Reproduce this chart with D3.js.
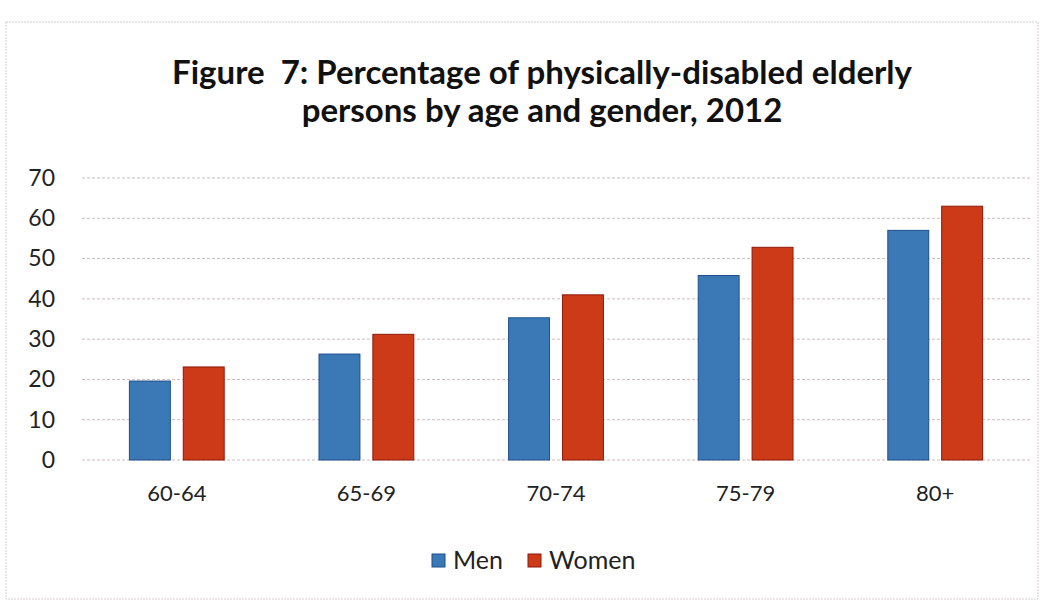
<!DOCTYPE html>
<html>
<head>
<meta charset="utf-8">
<script src="https://cdn.jsdelivr.net/npm/d3@7"></script>
<style>
  html, body { margin: 0; padding: 0; background: #fff; }
  svg { display: block; font-family: Lato, "Open Sans", sans-serif; }
  .title { white-space: pre; }
</style>
</head>
<body>
<svg id="chart" width="1044" height="607"></svg>
<script>
// Age groups and percentages of physically-disabled elderly persons, 2012
const ageGroups = ["60-64", "65-69", "70-74", "75-79", "80+"];
const seriesNames = ["Men", "Women"];
const menValues = [19.6, 26.3, 35.3, 45.8, 57.0];
const womenValues = [23.1, 31.2, 41.0, 52.8, 63.0];
const yTicks = [0, 10, 20, 30, 40, 50, 60, 70];
const titleLines = [
  "Figure  7: Percentage of physically-disabled elderly",
  "persons by age and gender, 2012"
];

const colors = { Men: "#3a79b6", Women: "#cc3a18" };
const strokes = { Men: "#1f4f8c", Women: "#8e1a0a" };

const svg = d3.select("#chart");
const W = 1044, H = 607;

// outer frame
svg.append("rect")
  .attr("x", 6).attr("y", 22).attr("width", W - 12).attr("height", H - 30)
  .attr("fill", "#fff").attr("stroke", "#d8cccc").attr("stroke-width", 1)
  .attr("stroke-dasharray", "2,1");

// title
svg.append("g").selectAll("text")
  .data(titleLines)
  .join("text")
  .attr("class", "title")
  .attr("x", 542)
  .attr("y", (d, i) => 84 + i * 38)
  .attr("text-anchor", "middle")
  .attr("font-size", 33)
  .attr("font-weight", 700)
  .attr("fill", "#111")
  .text(d => d);

const plot = { left: 82, right: 1030, top: 178, bottom: 460 };

const x0 = d3.scaleBand()
  .domain(ageGroups)
  .range([plot.left, plot.right])
  .paddingInner(0.5)
  .paddingOuter(0.25);

const x1 = d3.scaleBand()
  .domain(seriesNames)
  .range([0, x0.bandwidth()])
  .paddingInner(0.24);

const y = d3.scaleLinear()
  .domain([0, 70])
  .range([plot.bottom, plot.top]);

// horizontal gridlines
svg.append("g")
  .selectAll("line")
  .data(yTicks)
  .join("line")
  .attr("x1", plot.left).attr("x2", plot.right)
  .attr("y1", d => y(d)).attr("y2", d => y(d))
  .attr("stroke", "#cdbdbd")
  .attr("stroke-width", 1)
  .attr("stroke-dasharray", "3,2");

// y axis labels
const yAxis = d3.axisLeft(y).tickValues(yTicks).tickSize(0).tickPadding(0);
svg.append("g")
  .attr("transform", `translate(${plot.left - 27},0)`)
  .call(yAxis)
  .call(g => g.select(".domain").remove())
  .selectAll("text")
  .attr("font-family", "Lato, 'Open Sans', sans-serif")
  .attr("font-size", 23)
  .attr("fill", "#222");

// x axis labels
const xAxis = d3.axisBottom(x0).tickSize(0).tickPadding(0);
svg.append("g")
  .attr("transform", `translate(0,${plot.bottom + 25})`)
  .call(xAxis)
  .call(g => g.select(".domain").remove())
  .selectAll("text")
  .attr("font-family", "Lato, 'Open Sans', sans-serif")
  .attr("font-size", 22)
  .attr("fill", "#222")
  .attr("dy", "0.71em");

// bars
const rows = ageGroups.map((g, i) => ({
  group: g,
  values: [
    { series: "Men", value: menValues[i] },
    { series: "Women", value: womenValues[i] }
  ]
}));

const groups = svg.append("g")
  .selectAll("g")
  .data(rows)
  .join("g")
  .attr("transform", d => `translate(${x0(d.group)},0)`);

groups.selectAll("rect")
  .data(d => d.values)
  .join("rect")
  .attr("x", d => x1(d.series))
  .attr("y", d => y(d.value))
  .attr("width", x1.bandwidth())
  .attr("height", d => y(0) - y(d.value))
  .attr("fill", d => colors[d.series])
  .attr("stroke", d => strokes[d.series])
  .attr("stroke-width", 1);

// legend
const legend = svg.append("g").attr("transform", "translate(432,569)");
const legendItems = legend.selectAll("g")
  .data(seriesNames)
  .join("g")
  .attr("transform", (d, i) => `translate(${i * 96},0)`);
legendItems.append("rect")
  .attr("x", 0).attr("y", -15).attr("width", 13).attr("height", 13)
  .attr("fill", d => colors[d]).attr("stroke", d => strokes[d]);
legendItems.append("text")
  .attr("x", 21).attr("y", 0)
  .attr("font-size", 25)
  .attr("fill", "#222")
  .text(d => d);
</script>
</body>
</html>
